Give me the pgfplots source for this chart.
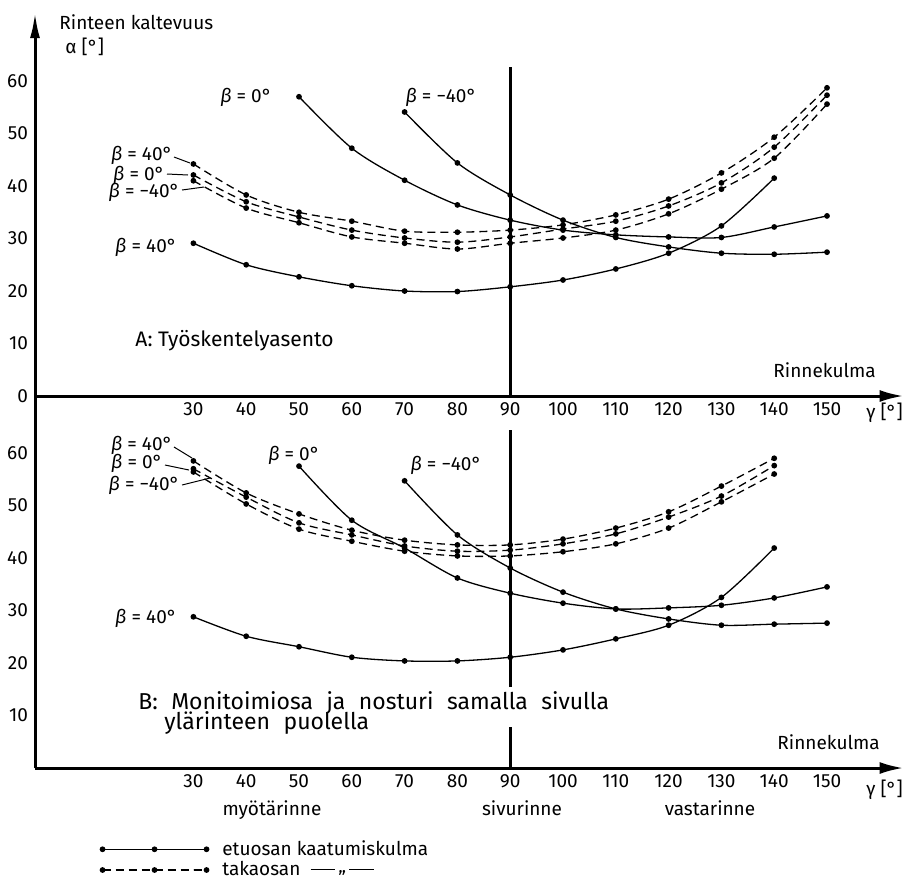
\documentclass[border=0pt]{standalone}
\usepackage{pgfplots}
\pgfplotsset{compat=1.18}
\usetikzlibrary{arrows.meta}
\usepackage{fontspec}
\setmainfont{Fira Sans}
\newfontfamily\widefont{Fira Sans}[WordSpace=2.2]

\pgfplotsset{
  panel/.style={
    x=2.64pt, y=2.625pt, xmin=0, xmax=164.5, ymin=0,
    axis x line*=bottom, axis y line*=left,
    axis line style={line width=1.5pt},
    x axis line style={-{Latex[length=12pt,width=6pt]}},
    xtick={30,40,...,150},
    major tick length=0pt,
    tick label style={font=\fontsize{9.5}{10}\selectfont},
    /pgf/number format/assume math mode=true,
    clip=false, anchor=origin,
  },
  front/.style={smooth, line width=0.65pt, mark=*, mark size=1.1pt},
  back/.style={smooth, line width=0.65pt, mark=*, mark size=1.1pt,
    dash pattern=on 4pt off 2.5pt, mark options={solid}},
}

\begin{document}
\begin{tikzpicture}
\useasboundingbox (0,0) rectangle (462pt,-439.5pt);

% A: Työskentelyasento
\begin{axis}[panel, at={(17.5pt,-198pt)}, ymax=73.1, ytick={0,10,...,60},
    y axis line style={-{Latex[length=13pt,width=5pt]}}]
\addplot[line width=1.5pt] coordinates {(90,0) (90,62.7)};
\addplot[front] coordinates {(50,57.0) (60,47.2) (70,41.1) (80,36.4) (90,33.5) (100,31.6) (110,30.7) (120,30.3) (130,30.2) (140,32.2) (150,34.3)};
\addplot[front] coordinates {(70,54.1) (80,44.4) (90,38.3) (100,33.5) (110,30.2) (120,28.4) (130,27.2) (140,27.0) (150,27.4)};
\addplot[front] coordinates {(30,29.1) (40,25.0) (50,22.7) (60,21.0) (70,20.0) (80,19.9) (90,20.8) (100,22.1) (110,24.2) (120,27.2) (130,32.4) (140,41.5)};
\addplot[back] coordinates {(30,44.2) (40,38.3) (50,35.0) (60,33.3) (70,31.4) (80,31.2) (90,31.6) (100,32.6) (110,34.5) (120,37.5) (130,42.5) (140,49.3) (150,58.7)};
\addplot[back] coordinates {(30,42.1) (40,37.0) (50,34.1) (60,31.6) (70,30.1) (80,29.3) (90,30.3) (100,31.8) (110,33.3) (120,36.2) (130,40.6) (140,47.4) (150,57.3)};
\addplot[back] coordinates {(30,41.0) (40,35.8) (50,33.0) (60,30.3) (70,29.1) (80,28.0) (90,29.1) (100,30.1) (110,31.6) (120,34.7) (130,39.4) (140,45.3) (150,55.6)};
\end{axis}

% B: Monitoimiosa ja nosturi samalla sivulla
\begin{axis}[panel, at={(17.5pt,-384pt)}, ymax=70.86, ytick={10,20,...,60},
    legend style={at={(axis cs:12.3,-13.4)}, anchor=north west, draw=none, fill=none,
      font=\fontsize{9.5}{10}\selectfont, row sep=0pt, inner sep=0pt,
      nodes={inner sep=0.8pt},
      /tikz/every odd column/.append style={column sep=6pt}},
    legend cell align=left,
    legend image code/.code={\draw[#1] plot coordinates {(0pt,0pt) (26pt,0pt) (52pt,0pt)};}]
\addlegendimage{front}
\addlegendentry{etuosan kaatumiskulma}
\addlegendimage{back}
\addlegendentry{takaosan \ \rule[0.6ex]{1.3em}{0.5pt}\,\raisebox{0.3ex}{,,}\,\rule[0.6ex]{1.3em}{0.5pt}}
\addplot[line width=1.5pt] coordinates {(90,0) (90,7.8)};
\addplot[line width=1.5pt] coordinates {(90,15.4) (90,64.4)};
\addplot[front] coordinates {(50,57.5) (60,47.2) (70,41.9) (80,36.2) (90,33.3) (100,31.4) (110,30.3) (120,30.5) (130,31.0) (140,32.4) (150,34.5)};
\addplot[front] coordinates {(70,54.7) (80,44.4) (90,38.1) (100,33.5) (110,30.3) (120,28.4) (130,27.2) (140,27.4) (150,27.6)};
\addplot[front] coordinates {(30,28.8) (40,25.1) (50,23.1) (60,21.1) (70,20.4) (80,20.4) (90,21.1) (100,22.5) (110,24.6) (120,27.2) (130,32.5) (140,41.9)};
\addplot[back] coordinates {(30,58.5) (40,52.4) (50,48.4) (60,45.3) (70,43.4) (80,42.5) (90,42.5) (100,43.6) (110,45.7) (120,48.8) (130,53.7) (140,59.0)};
\addplot[back] coordinates {(30,57.0) (40,51.6) (50,46.7) (60,44.4) (70,42.3) (80,41.3) (90,41.5) (100,42.7) (110,44.6) (120,47.8) (130,51.8) (140,57.6)};
\addplot[back] coordinates {(30,56.4) (40,50.3) (50,45.5) (60,43.2) (70,41.3) (80,40.4) (90,40.4) (100,41.2) (110,42.7) (120,45.7) (130,50.7) (140,56.0)};
\end{axis}

% texts, placed in pixel units of the reference
\begin{scope}[x=0.5pt, y=-0.5pt, every node/.style={inner sep=0pt, font=\fontsize{9.5}{10}\selectfont}]
\node[anchor=west] at (59,22) {Rinteen kaltevuus};
\node[anchor=west] at (65,47) {α [°]};
\node[anchor=west] at (773,370) {Rinnekulma};
\node[anchor=west] at (777,742) {Rinnekulma};
\node[anchor=west] at (866,413) {γ [°]};
\node[anchor=west] at (866,790) {γ [°]};
\node[anchor=west, font=\fontsize{10.5}{12}\selectfont] at (135,341) {A: Työskentelyasento};
\node[anchor=west, font=\widefont\fontsize{11.5}{12}\selectfont] at (138,703) {B: Monitoimiosa ja nosturi samalla sivulla};
\node[anchor=west, font=\widefont\fontsize{11.5}{12}\selectfont] at (164,723) {ylärinteen puolella};
\node at (272,810) {myötärinne};
\node at (522,808) {sivurinne};
\node at (710,808) {vastarinne};
% A labels
\node at (246,97) {\itshape β\upshape\ = 0°};
\node at (441,97) {\itshape β\upshape\ = −40°};
\node[anchor=east] at (173,155) {\itshape β\upshape\ = 40°};
\node[anchor=east] at (165,175) {\itshape β\upshape\ = 0°};
\node[anchor=east] at (180,192) {\itshape β\upshape\ = −40°};
\node at (146,247) {\itshape β\upshape\ = 40°};
\draw[line width=0.5pt] (174,157) -- (190,163) (167,174) -- (188,175) (182,190) -- (204,187);
% B labels
\node[anchor=east] at (173,445) {\itshape β\upshape\ = 40°};
\node[anchor=east] at (163,463) {\itshape β\upshape\ = 0°};
\node[anchor=east] at (180,485) {\itshape β\upshape\ = −40°};
\node at (294,455) {\itshape β\upshape\ = 0°};
\node at (446,465) {\itshape β\upshape\ = −40°};
\node at (146,618) {\itshape β\upshape\ = 40°};
\draw[line width=0.5pt] (174,447) -- (192,458) (165,465) -- (189,470) (182,485) -- (210,478);
\end{scope}
\end{tikzpicture}
\end{document}
